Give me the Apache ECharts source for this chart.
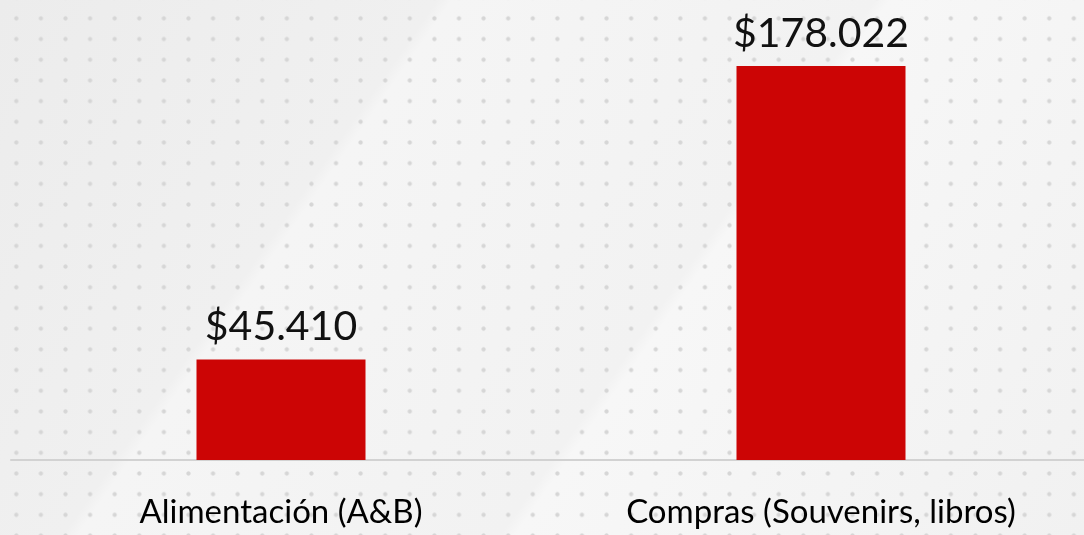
<!DOCTYPE html>
<html lang="es">
<head>
  <meta charset="UTF-8" />
  <title>Gasto por categoría</title>
  <script src="https://cdn.jsdelivr.net/npm/echarts@6.0.0/dist/echarts.min.js"></script>
  <style>
    html, body { margin: 0; padding: 0; }
    body {
      width: 1084px; height: 535px; overflow: hidden;
      background-color: #f1f1f1;
      background-image:
        radial-gradient(circle, #d6d6d6 0, #d6d6d6 1.6px, rgba(214,214,214,0) 2.6px),
        linear-gradient(125deg, #ececec 0%, #f0f0f0 30%, #f5f5f5 31%, #f2f2f2 60%, #f7f7f7 61%, #f1f1f1 100%);
      background-size: 24.6px 20.7px, 100% 100%;
      background-position: 4px 8px, 0 0;
    }
  </style>
</head>
<body>
  <!-- el eje llega hasta el borde derecho: el contenedor es algo más ancho que la ventana -->
  <div id="main" style="width: 1091px; height: 535px;"></div>
  <script type="text/javascript">
    // datos
    var categorias = ['Alimentación (A&B)', 'Compras (Souvenirs, libros)'];
    var valores = [45410, 178022];
    var etiquetas = ['$45.410', '$178.022'];

    var barColor = '#cc0505';
    var ejeColor = '#d2d2d2';

    var myChart = echarts.init(document.getElementById('main'));
    myChart.setOption({
      animation: false,
      backgroundColor: 'transparent',
      grid: { left: 11, right: 0, top: 66, bottom: 75, containLabel: false },
      xAxis: {
        type: 'category',
        data: categorias,
        axisLine: { show: true, lineStyle: { color: ejeColor, width: 2 } },
        axisTick: { show: false },
        axisLabel: {
          color: '#000',
          fontSize: 33,
          fontFamily: 'Lato',
          margin: 36
        }
      },
      yAxis: {
        type: 'value',
        min: 0,
        max: 'dataMax',
        show: false,
        splitLine: { show: false }
      },
      series: [{
        type: 'bar',
        data: valores,
        barWidth: 169,
        itemStyle: { color: barColor },
        label: {
          show: true,
          position: 'top',
          distance: 12,
          color: '#111',
          fontSize: 41,
          fontFamily: 'Lato',
          formatter: function (p) { return etiquetas[p.dataIndex]; }
        }
      }]
    });
  </script>
</body>
</html>
